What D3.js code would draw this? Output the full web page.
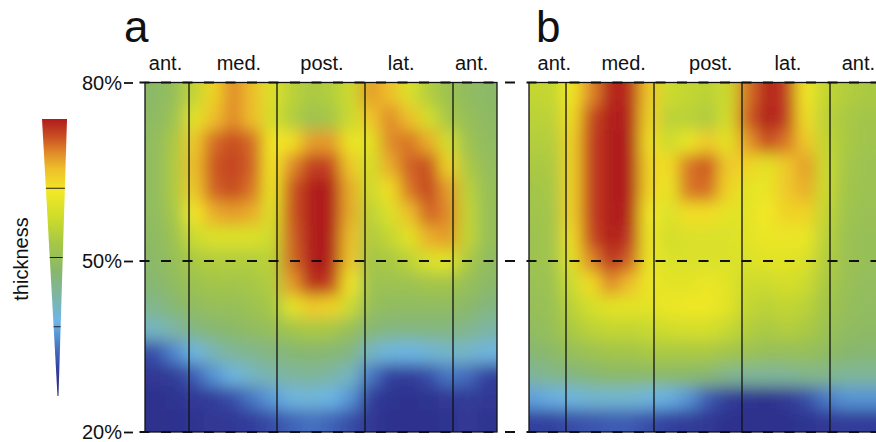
<!DOCTYPE html>
<html>
<head>
<meta charset="utf-8">
<script src="https://cdn.jsdelivr.net/npm/d3@7"></script>
<style>
  body { margin: 0; background: #fff; }
  svg { display: block; font-family: "Liberation Sans", Arial, Helvetica, sans-serif; }
  .label { font-size: 20px; fill: #111; }
  .letter { font-size: 44px; fill: #111; }
</style>
</head>
<body>
<svg width="876" height="442"></svg>
<script>
// **** data ****
var sections = ['ant.', 'med.', 'post.', 'lat.', 'ant.'];
var labelAnglesA = [21, 96, 181, 262, 334];
var labelAnglesB = [33, 104, 193, 272, 344];
var dividers = [45, 135, 225, 315];
var colAngles = [10, 30, 50, 70, 90, 110, 130, 150, 170, 190, 210, 230, 250, 270, 290, 310, 330, 350];
var rowLevels = [78, 74, 70, 66, 62, 58, 54, 50, 46, 42, 38, 34, 30, 26, 22];
var yTicks = [80, 50, 20];
var legendTicks = [0.25, 0.5, 0.75];
var colorStops = [0, 0.1, 0.2, 0.27, 0.36, 0.45, 0.55, 0.65, 0.74, 0.82, 0.88, 0.94, 1];
var colorHex = ['#2b2a84', '#33409e', '#4f86cf', '#6cb6e6', '#7db5a4', '#88b76c', '#a6c746',
                '#d0dd2a', '#f2e826', '#eebf2a', '#e0892a', '#c84b22', '#b01b1e'];

// thickness (normalised), rows top (80%) to bottom (20%), columns by angle
var gridA = [
  [0.46,0.50,0.62,0.78,0.88,0.82,0.68,0.60,0.56,0.58,0.64,0.86,0.82,0.68,0.58,0.52,0.48,0.46],
  [0.47,0.52,0.70,0.82,0.88,0.82,0.66,0.58,0.52,0.55,0.64,0.80,0.88,0.82,0.66,0.55,0.50,0.47],
  [0.48,0.56,0.80,0.91,0.94,0.91,0.74,0.76,0.86,0.86,0.72,0.70,0.88,0.90,0.84,0.66,0.52,0.48],
  [0.48,0.57,0.82,0.93,0.95,0.92,0.74,0.88,0.96,0.95,0.80,0.66,0.84,0.92,0.94,0.78,0.56,0.49],
  [0.48,0.57,0.80,0.92,0.94,0.90,0.72,0.93,1.00,1.00,0.84,0.64,0.76,0.90,0.95,0.86,0.60,0.50],
  [0.48,0.55,0.74,0.84,0.86,0.84,0.68,0.93,1.00,1.00,0.84,0.60,0.68,0.82,0.92,0.88,0.62,0.50],
  [0.47,0.52,0.64,0.68,0.68,0.68,0.64,0.92,1.00,1.00,0.82,0.57,0.62,0.70,0.84,0.86,0.62,0.50],
  [0.46,0.50,0.56,0.58,0.58,0.58,0.60,0.91,1.00,1.00,0.80,0.54,0.56,0.60,0.68,0.70,0.56,0.48],
  [0.44,0.48,0.52,0.54,0.54,0.55,0.58,0.86,0.98,0.96,0.74,0.52,0.52,0.52,0.54,0.54,0.50,0.46],
  [0.40,0.44,0.48,0.50,0.50,0.52,0.55,0.70,0.80,0.78,0.64,0.50,0.48,0.48,0.48,0.48,0.46,0.42],
  [0.32,0.36,0.42,0.44,0.46,0.48,0.50,0.54,0.56,0.55,0.50,0.44,0.42,0.42,0.42,0.42,0.40,0.36],
  [0.12,0.20,0.28,0.34,0.38,0.40,0.42,0.44,0.45,0.44,0.42,0.32,0.28,0.27,0.29,0.31,0.31,0.28],
  [0.06,0.08,0.14,0.22,0.28,0.32,0.35,0.37,0.38,0.36,0.32,0.18,0.10,0.08,0.12,0.18,0.16,0.10],
  [0.04,0.05,0.07,0.09,0.12,0.18,0.23,0.28,0.29,0.27,0.22,0.08,0.05,0.04,0.05,0.07,0.08,0.06],
  [0.03,0.04,0.05,0.06,0.07,0.09,0.12,0.15,0.17,0.15,0.12,0.06,0.04,0.04,0.04,0.05,0.06,0.05]
];
var gridB = [
  [0.62,0.62,0.74,0.88,0.99,0.98,0.80,0.64,0.62,0.60,0.64,0.90,0.99,0.96,0.74,0.62,0.58,0.56],
  [0.60,0.60,0.76,0.94,1.00,0.99,0.78,0.60,0.60,0.57,0.66,0.92,1.00,0.96,0.76,0.60,0.56,0.54],
  [0.58,0.58,0.78,0.95,1.00,1.00,0.76,0.64,0.72,0.80,0.70,0.86,0.94,0.90,0.80,0.62,0.56,0.53],
  [0.56,0.56,0.78,0.95,1.00,1.00,0.78,0.76,0.90,0.93,0.80,0.78,0.70,0.80,0.86,0.64,0.55,0.52],
  [0.54,0.55,0.78,0.95,1.00,1.00,0.78,0.72,0.90,0.91,0.78,0.70,0.72,0.80,0.84,0.64,0.54,0.52],
  [0.53,0.54,0.78,0.95,1.00,0.99,0.74,0.68,0.76,0.76,0.70,0.70,0.74,0.78,0.78,0.62,0.53,0.51],
  [0.52,0.53,0.76,0.94,1.00,0.97,0.72,0.66,0.68,0.68,0.68,0.70,0.72,0.72,0.72,0.60,0.52,0.50],
  [0.52,0.53,0.70,0.88,0.97,0.92,0.72,0.68,0.68,0.68,0.68,0.68,0.70,0.70,0.68,0.58,0.52,0.50],
  [0.51,0.52,0.64,0.76,0.88,0.82,0.72,0.70,0.70,0.72,0.70,0.64,0.64,0.66,0.64,0.56,0.51,0.49],
  [0.50,0.51,0.60,0.66,0.70,0.70,0.70,0.72,0.73,0.73,0.70,0.62,0.60,0.62,0.60,0.54,0.50,0.48],
  [0.48,0.50,0.56,0.60,0.62,0.62,0.63,0.65,0.66,0.66,0.63,0.58,0.56,0.58,0.56,0.52,0.48,0.47],
  [0.44,0.46,0.50,0.52,0.54,0.54,0.56,0.56,0.56,0.56,0.54,0.52,0.50,0.50,0.50,0.48,0.45,0.44],
  [0.38,0.40,0.42,0.44,0.46,0.46,0.46,0.46,0.46,0.44,0.40,0.38,0.38,0.38,0.40,0.40,0.38,0.38],
  [0.24,0.26,0.28,0.30,0.30,0.30,0.28,0.26,0.22,0.14,0.08,0.05,0.04,0.06,0.12,0.18,0.22,0.22],
  [0.10,0.10,0.12,0.13,0.14,0.14,0.12,0.10,0.08,0.06,0.04,0.03,0.03,0.04,0.05,0.07,0.08,0.08]
];

// **** scales ****
var svg = d3.select('svg');
var y = d3.scaleLinear().domain([20, 50, 80]).range([432, 261, 82.5]);
var color = d3.scaleLinear().domain(colorStops).range(colorHex).clamp(true);

var panels = [
  { id: 'a', grid: gridA, x: d3.scaleLinear().domain([45, 315]).range([189, 453]),
    left: 145, right: 497, labels: labelAnglesA, letterX: 124 },
  { id: 'b', grid: gridB, x: d3.scaleLinear().domain([45, 315]).range([566, 830]),
    left: 529, right: 880, labels: labelAnglesB, letterX: 536 }
];

var defs = svg.append('defs');
defs.append('filter').attr('id', 'smooth')
    .attr('x', '-10%').attr('y', '-10%').attr('width', '120%').attr('height', '120%')
  .append('feGaussianBlur').attr('stdDeviation', 8);

var yTop = y(80), yBottom = y(20);

panels.forEach(function (p) {
    defs.append('clipPath').attr('id', 'clip-' + p.id)
      .append('rect')
        .attr('x', p.left).attr('y', yTop)
        .attr('width', p.right - p.left).attr('height', yBottom - yTop);

    var cells = [];
    p.grid.forEach(function (row, i) {
        row.forEach(function (v, j) {
            var a = colAngles[j];
            var x0 = p.x(a - 10), x1 = p.x(a + 10);
            var y0 = y(rowLevels[i] + 2), y1 = y(rowLevels[i] - 2);
            if (j === 0) x0 = Math.min(x0, p.left) - 24;
            if (j === row.length - 1) x1 = Math.max(x1, p.right) + 24;
            if (i === 0) y0 -= 24;
            if (i === p.grid.length - 1) y1 += 24;
            cells.push({ x0: x0, x1: x1, y0: y0, y1: y1, v: v });
        });
    });

    svg.append('g').attr('clip-path', 'url(#clip-' + p.id + ')')
      .append('g').attr('filter', 'url(#smooth)')
      .selectAll('rect')
      .data(cells).enter()
      .append('rect')
        .attr('x', function (d) { return d.x0; })
        .attr('y', function (d) { return d.y0; })
        .attr('width', function (d) { return d.x1 - d.x0 + 0.6; })
        .attr('height', function (d) { return d.y1 - d.y0 + 0.6; })
        .style('fill', function (d) { return color(d.v); });

    // section dividers
    svg.append('g').selectAll('line')
      .data(dividers).enter()
      .append('line')
        .attr('x1', function (d) { return p.x(d); })
        .attr('x2', function (d) { return p.x(d); })
        .attr('y1', yTop).attr('y2', yBottom)
        .style('stroke', '#111').style('stroke-width', 1.3);

    svg.append('rect')
        .attr('x', p.left).attr('y', yTop)
        .attr('width', p.right - p.left).attr('height', yBottom - yTop)
        .style('fill', 'none').style('stroke', '#111').style('stroke-width', 1.3);

    // section labels
    svg.append('g').selectAll('text')
      .data(sections).enter()
      .append('text')
        .attr('class', 'label')
        .attr('x', function (d, i) { return p.x(p.labels[i]); })
        .attr('y', 70)
        .attr('text-anchor', 'middle')
        .text(function (d) { return d; });

    svg.append('text')
        .attr('class', 'letter')
        .attr('x', p.letterX).attr('y', 42)
        .text(p.id);
});

// dashed reference lines
svg.append('g').selectAll('line')
  .data(yTicks).enter()
  .append('line')
    .attr('x1', 139.5).attr('x2', 876)
    .attr('y1', function (d) { return y(d); })
    .attr('y2', function (d) { return y(d); })
    .style('stroke', '#111').style('stroke-width', 2)
    .style('stroke-dasharray', '10 11.5');

// y axis
var axis = svg.append('g')
    .attr('transform', 'translate(133,0)')
    .call(d3.axisLeft(y).tickValues(yTicks).tickSize(9).tickPadding(2)
        .tickFormat(function (d) { return d + '%'; }));
axis.select('.domain').remove();
axis.selectAll('line').style('stroke', '#111').style('stroke-width', 1.8);
axis.selectAll('text')
    .attr('class', 'label')
    .attr('dy', '0.33em')
    .style('font-family', '"Liberation Sans", Arial, Helvetica, sans-serif');

// **** legend ****
var ly = d3.scaleLinear().domain([0, 1]).range([396, 119]);
function lx(v) { return 57.5 - v * 15.5; }
function rx(v) { return 58.5 + v * 8.5; }

var grad = defs.append('linearGradient').attr('id', 'legend-grad')
    .attr('x1', 0).attr('y1', 1).attr('x2', 0).attr('y2', 0);
grad.selectAll('stop')
  .data(colorStops).enter()
  .append('stop')
    .attr('offset', function (d) { return d; })
    .attr('stop-color', function (d, i) { return colorHex[i]; });

svg.append('polygon')
    .attr('points', [[lx(1), ly(1)], [rx(1), ly(1)], [rx(0), ly(0)], [lx(0), ly(0)]].join(' '))
    .style('fill', 'url(#legend-grad)');

svg.append('g').selectAll('line')
  .data(legendTicks).enter()
  .append('line')
    .attr('x1', function (d) { return lx(d); })
    .attr('x2', function (d) { return rx(d); })
    .attr('y1', function (d) { return ly(d); })
    .attr('y2', function (d) { return ly(d); })
    .style('stroke', '#222').style('stroke-width', 1);

svg.append('text')
    .attr('class', 'label')
    .attr('text-anchor', 'middle')
    .attr('transform', 'translate(28,259) rotate(-90)')
    .text('thickness');
</script>
</body>
</html>
